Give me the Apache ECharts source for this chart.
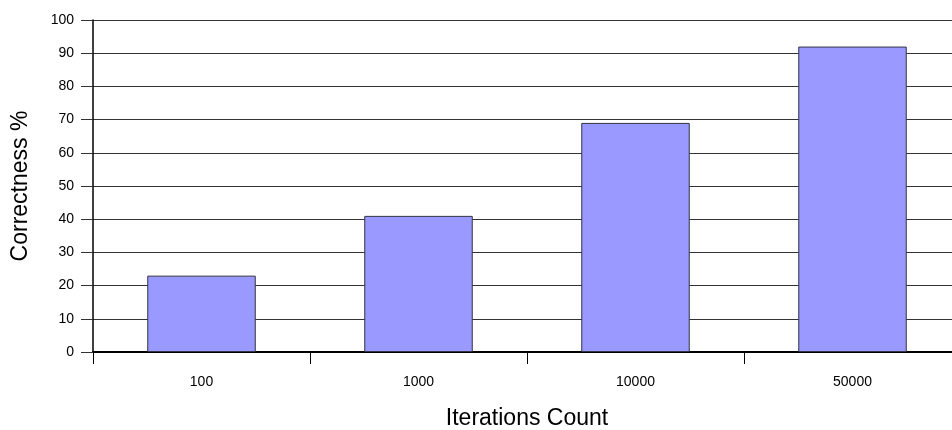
<!DOCTYPE html>
<html><head><meta charset="utf-8">
<script src="https://cdn.jsdelivr.net/npm/echarts@6/dist/echarts.min.js"></script>
<style>html,body{margin:0;padding:0;background:#fff;overflow:hidden}#c{width:952px;height:430px}</style>
</head><body><div id="c"></div>
<script>
const categories = ['100', '1000', '10000', '50000'];
const correctness = [23, 41, 69, 92];
const yTicks = [0, 10, 20, 30, 40, 50, 60, 70, 80, 90, 100];

const chart = echarts.init(document.getElementById('c'), null, {renderer: 'canvas'});
chart.setOption({
  animation: false,
  backgroundColor: '#fff',
  textStyle: {fontFamily: 'Liberation Sans, Arial, sans-serif'},
  grid: {left: 93, top: 20, width: 868, height: 332, containLabel: false, outerBoundsMode: 'none'},
  xAxis: {
    type: 'category',
    data: categories,
    name: 'Iterations Count',
    nameLocation: 'middle',
    nameGap: 55,
    nameTextStyle: {fontSize: 23, color: '#000', fontFamily: 'Liberation Sans'},
    axisLine: {lineStyle: {color: '#000', width: 2}},
    axisTick: {show: true, alignWithLabel: false, length: 12, inside: false, lineStyle: {color: '#000', width: 1}},
    axisLabel: {fontSize: 14, color: '#000', margin: 23, fontFamily: 'Liberation Sans'},
    splitLine: {show: false}
  },
  yAxis: {
    type: 'value',
    min: yTicks[0],
    max: yTicks[yTicks.length - 1],
    interval: 10,
    name: 'Correctness %',
    nameLocation: 'middle',
    nameGap: 61,
    nameTextStyle: {fontSize: 23, color: '#000', fontFamily: 'Liberation Sans'},
    axisLine: {show: true, lineStyle: {color: '#000', width: 1.5}},
    axisTick: {show: true, length: 12, lineStyle: {color: '#333', width: 1}},
    axisLabel: {fontSize: 14, color: '#000', margin: 19, fontFamily: 'Liberation Sans'},
    splitLine: {show: true, lineStyle: {color: '#333', width: 1}}
  },
  series: [{
    type: 'bar',
    data: correctness,
    barWidth: '50%',
    itemStyle: {color: '#9999FF', borderColor: '#333344', borderWidth: 1}
  }]
});
</script>
</body></html>
